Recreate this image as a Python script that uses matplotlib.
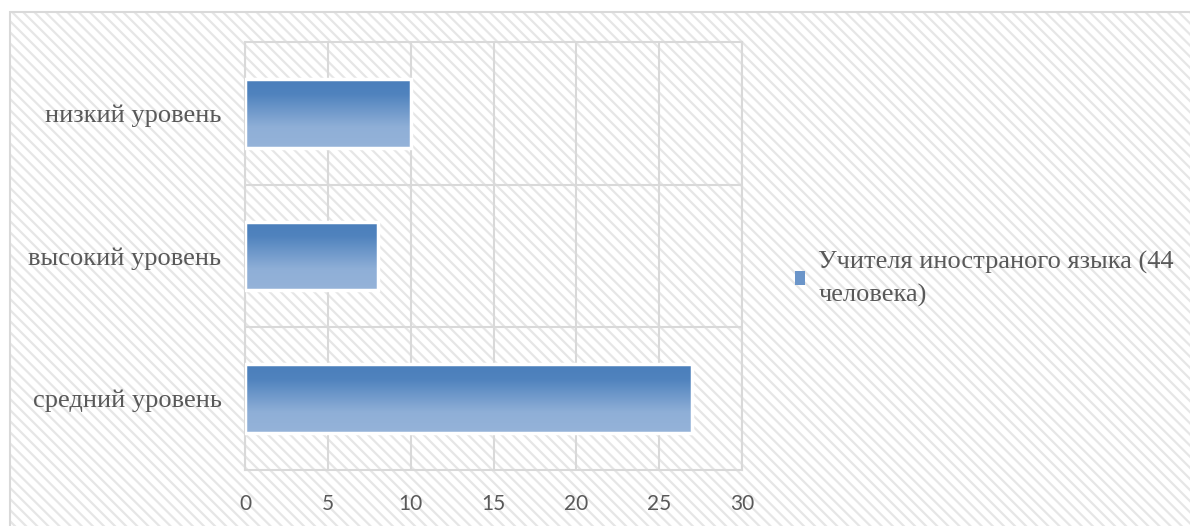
import numpy as np
import matplotlib.pyplot as plt
from matplotlib.patches import Rectangle, Patch
from matplotlib.colors import LinearSegmentedColormap

# data (top to bottom as shown)
categories = ['низкий уровень', 'высокий уровень', 'средний уровень']
values = [10, 8, 27]
series_name = 'Учителя иностраного языка (44\nчеловека)'
xticks = [0, 5, 10, 15, 20, 25, 30]

plt.rcParams['hatch.linewidth'] = 1.6
txt_col = '#595959'
grid_col = '#d9d9d9'

fig = plt.figure(figsize=(11.9, 5.26), dpi=100)

# chart area: striped background with light border
bg = Rectangle((10/1190, -0.1), 1.2, 1.1 - 12/526, transform=fig.transFigure,
               facecolor='white', edgecolor='#e6e6e6', hatch='\\\\\\', lw=0, zorder=-3)
fig.patches.append(bg)
frame = Rectangle((10/1190, -0.1), 1.2, 1.1 - 12/526, transform=fig.transFigure,
                  facecolor='none', edgecolor=grid_col, lw=1.5, zorder=-2)
fig.patches.append(frame)

ax = fig.add_axes([245/1190, 1 - 470/526, (742 - 245)/1190, (470 - 42)/526])
ax.set_facecolor('none')

y = np.arange(len(categories))
bars = ax.barh(y, values, height=0.48, color='none', edgecolor='white', linewidth=2.5, zorder=4)

# vertical gradient fill for each bar
cmap = LinearSegmentedColormap.from_list('g', [(0, '#4a7ebb'), (0.22, '#5083be'),
                                               (0.7, '#8fafd7'), (1, '#95b3d9')])
grad = np.linspace(0, 1, 256).reshape(-1, 1)
for b in bars:
    x0, y0, w, h = b.get_x(), b.get_y(), b.get_width(), b.get_height()
    ax.imshow(grad, cmap=cmap, extent=(x0, x0 + w, y0 + h, y0), aspect='auto',
              origin='upper', zorder=3, interpolation='bilinear')

ax.set_xlim(0, 30)
ax.set_ylim(len(categories) - 0.5, -0.5)
ax.set_xticks(xticks)
ax.set_yticks(y)
ax.set_yticklabels(categories, family=['Liberation Serif', 'DejaVu Serif'], fontsize=19, color=txt_col)
ax.set_xticklabels([str(t) for t in xticks], family=['Lato', 'DejaVu Sans'], fontsize=15, color=txt_col)
ax.tick_params(length=0)
ax.tick_params(axis='y', pad=17)
ax.tick_params(axis='x', pad=17)

ax.grid(axis='x', color=grid_col, lw=1.5, zorder=1)
for yb in np.arange(0.5, len(categories) - 0.5, 1):
    ax.axhline(yb, color=grid_col, lw=1.5, zorder=1)
ax.set_axisbelow(True)
for s in ax.spines.values():
    s.set_color(grid_col)
    s.set_linewidth(1.5)

handle = Patch(facecolor='#6b95c9', edgecolor='none')
leg = fig.legend([handle], [series_name], loc='center left', bbox_to_anchor=(771/1190, 1 - 279/526),
                 frameon=False, handlelength=0.4, handleheight=0.4, handletextpad=0.5,
                 prop={'family': ['Liberation Serif', 'DejaVu Serif'], 'size': 19},
                 labelcolor=txt_col)
for t in leg.get_texts():
    t.set_linespacing(1.55)

fig.savefig('out.png', dpi=100)
